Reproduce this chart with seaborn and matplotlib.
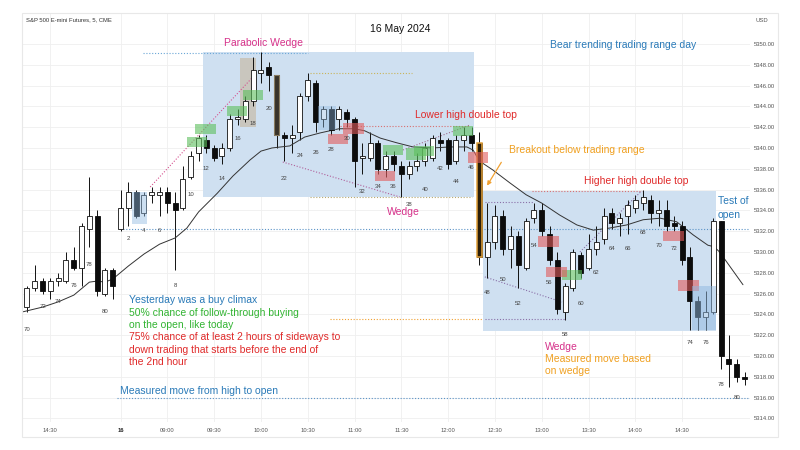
import numpy as np
import pandas as pd
import matplotlib
matplotlib.use("Agg")
import matplotlib.pyplot as plt
import seaborn as sns
from matplotlib.patches import Rectangle

sns.set_theme(style="white")
plt.rcParams['font.family'] = ['Liberation Sans', 'DejaVu Sans']

# ---------------- data ----------------
bar_numbers = list(range(70, 82)) + list(range(1, 82))

opens = [5324.75, 5326.5, 5327.25, 5326.25, 5327.25, 5327.25, 5329.25, 5328.5, 5332.25, 5333.5, 5326.0, 5328.25,
         5332.25, 5334.25, 5335.75, 5333.75, 5335.5, 5335.5, 5335.75, 5334.75, 5334.25, 5337.25,
         5339.5, 5340.75, 5340.0, 5339.25, 5340.0, 5342.75, 5342.75, 5344.5, 5347.25, 5347.75,
         5347.0, 5341.25, 5341.0, 5341.5, 5345.0, 5346.25, 5342.75, 5343.75, 5342.75, 5343.5,
         5342.75, 5339.0, 5339.0, 5340.5, 5338.0, 5339.25, 5338.25, 5337.5, 5338.25, 5338.75,
         5339.0, 5340.75, 5340.75, 5338.75, 5340.75, 5341.25, 5340.5, 5329.5, 5331.0, 5333.5,
         5330.25, 5331.5, 5328.5, 5333.25, 5334.0, 5331.75, 5329.25, 5324.25, 5326.5, 5329.75,
         5328.5, 5330.25, 5331.25, 5333.75, 5332.75, 5333.5, 5334.25, 5334.75, 5335.0, 5333.75,
         5334.0, 5332.75, 5332.5, 5329.5, 5325.25, 5323.75, 5324.25, 5333.0, 5319.75, 5319.25, 5318.0]
highs = [5326.75, 5328.75, 5327.5, 5327.5, 5328.0, 5330.0, 5330.5, 5332.75, 5337.25, 5334.0, 5328.5, 5328.5,
         5336.0, 5336.75, 5336.0, 5335.75, 5336.25, 5336.25, 5336.25, 5335.75, 5338.25, 5339.75,
         5341.25, 5341.25, 5340.25, 5340.5, 5343.25, 5343.75, 5345.0, 5348.75, 5349.25, 5348.25,
         5347.0, 5341.5, 5342.25, 5345.25, 5347.25, 5346.5, 5344.0, 5344.0, 5344.0, 5343.75,
         5343.0, 5340.5, 5341.5, 5340.75, 5339.75, 5339.75, 5338.75, 5338.75, 5339.5, 5340.5,
         5341.25, 5341.5, 5341.0, 5341.25, 5342.0, 5342.0, 5341.5, 5334.75, 5334.5, 5334.0,
         5332.5, 5332.0, 5333.25, 5334.75, 5334.75, 5332.5, 5330.0, 5327.0, 5330.25, 5330.0,
         5331.75, 5332.5, 5334.25, 5334.25, 5333.75, 5335.0, 5335.5, 5336.0, 5335.5, 5335.0,
         5335.0, 5333.5, 5333.0, 5330.5, 5325.75, 5326.25, 5333.25, 5333.0, 5322.0, 5319.75, 5318.5]
lows = [5324.25, 5326.25, 5326.0, 5325.5, 5326.75, 5327.0, 5328.25, 5326.75, 5330.5, 5325.75, 5325.75, 5325.5,
        5332.0, 5332.5, 5333.25, 5333.5, 5334.75, 5333.5, 5333.75, 5328.25, 5334.0, 5337.0,
        5338.75, 5339.5, 5338.75, 5338.5, 5339.75, 5342.25, 5342.5, 5344.0, 5346.25, 5345.5,
        5340.0, 5338.75, 5339.5, 5340.75, 5344.5, 5341.5, 5342.0, 5341.25, 5341.75, 5342.0,
        5336.25, 5337.5, 5338.75, 5337.5, 5337.25, 5337.75, 5335.25, 5337.0, 5337.75, 5338.25,
        5338.75, 5339.75, 5338.0, 5338.5, 5339.75, 5339.75, 5328.75, 5327.5, 5330.25, 5329.75,
        5328.5, 5326.5, 5328.25, 5332.75, 5331.5, 5328.75, 5324.0, 5323.5, 5326.25, 5327.5,
        5328.25, 5329.75, 5330.75, 5332.25, 5331.5, 5331.75, 5333.75, 5334.0, 5332.75, 5332.5,
        5332.0, 5332.0, 5328.75, 5322.5, 5322.5, 5322.5, 5324.0, 5318.75, 5317.0, 5317.5, 5317.25]
closes = [5326.5, 5327.25, 5326.25, 5327.25, 5327.5, 5329.25, 5328.5, 5332.5, 5333.5, 5326.25, 5328.25, 5326.75,
          5334.25, 5335.75, 5333.5, 5335.5, 5335.75, 5335.75, 5334.75, 5334.0, 5337.0, 5339.25,
          5341.0, 5340.0, 5339.0, 5340.0, 5342.75, 5343.0, 5344.5, 5347.5, 5347.5, 5347.0,
          5341.25, 5341.0, 5341.25, 5345.0, 5346.5, 5342.5, 5343.75, 5341.75, 5343.75, 5342.75,
          5338.75, 5339.25, 5340.5, 5338.0, 5339.25, 5338.5, 5337.5, 5338.25, 5338.75, 5340.0,
          5341.0, 5340.5, 5338.5, 5340.75, 5341.25, 5340.5, 5329.5, 5331.0, 5333.5, 5330.25,
          5331.5, 5328.75, 5333.0, 5334.0, 5332.0, 5329.25, 5324.5, 5326.75, 5330.0, 5328.0,
          5330.25, 5331.0, 5333.5, 5332.75, 5333.25, 5334.5, 5335.0, 5335.25, 5333.75, 5334.0,
          5332.5, 5332.5, 5329.25, 5325.25, 5323.75, 5324.25, 5333.0, 5320.0, 5319.25, 5318.0, 5317.75]

# moving average (bar slot, price)
ema_slot = [-0.5, 2, 4, 6, 8, 9, 10, 11, 13, 15, 17, 19, 20.5, 22, 24.4, 26.4, 28.6, 30, 31.4, 33.7,
            35.6, 37.6, 40, 42, 43.3, 45.3, 47.4, 49.5, 52, 54.2, 56.4, 57.2, 58, 59.7, 61.9, 64, 66,
            68.3, 70.5, 72.6, 74.7, 76.9, 79, 81.2, 83.3, 85.4, 87.3, 88.1, 88.8, 91.8]
ema_vals = [5324.25, 5324.7, 5325.2, 5325.85, 5327.1, 5327.2, 5327.1, 5327.4, 5328.65, 5329.8, 5330.75,
            5331.35, 5332.3, 5333.85, 5335.65, 5337.3, 5338.85, 5339.7, 5340.0, 5340.2, 5341.05, 5341.45,
            5341.85, 5341.85, 5341.65, 5340.95, 5340.5, 5340.1, 5340.0, 5340.1, 5340.1, 5339.8, 5338.75,
            5337.9, 5336.65, 5335.5, 5334.7, 5333.55, 5332.6, 5332.1, 5332.3, 5332.6, 5333.1, 5333.25,
            5332.9, 5331.65, 5330.65, 5330.5, 5330.0, 5326.85]

time_tick_slots = [3, 12, 18, 24, 30, 36, 42, 48, 54, 60, 66, 72, 78, 84]
time_tick_labels = ["14:30", "16", "09:00", "09:30", "10:00", "10:30", "11:00", "11:30",
                    "12:00", "12:30", "13:00", "13:30", "14:00", "14:30"]
price_ticks = list(range(5314, 5352, 2))

df = pd.DataFrame({"bar": bar_numbers, "open": opens, "high": highs, "low": lows, "close": closes})
df["slot"] = np.arange(len(df))

# ---------------- figure ----------------
W, H = 800, 450
fig = plt.figure(figsize=(8, 4.5), dpi=100)
ax = fig.add_axes([22 / W, 1 - 422 / H, (750 - 22) / W, (422 - 13) / H])
ax.set_xlim(-0.64, 92.7)
ax.set_ylim(5313.65, 5352.98)

for s in ax.spines.values():
    s.set_visible(False)
ax.set_axisbelow(True)
ax.grid(True, color='#efefef', lw=0.6)

# background zones
def rect(x0, x1, y0, y1, fc, alpha=1.0, z=1):
    ax.add_patch(Rectangle((x0, y0), x1 - x0, y1 - y0, facecolor=fc, edgecolor='none', alpha=alpha, zorder=z))

rect(22.6, 57.3, 5335.29, 5349.23, '#cfe0f1', z=1)
rect(58.5, 88.3, 5322.4, 5335.9, '#cfe0f1', z=1)
rect(27.3, 29.4, 5342.0, 5348.65, '#c8c0b2', alpha=0.8, z=1.5)

# dotted guide lines
def dline(x0, x1, y0, y1, color, lw=0.8):
    ax.plot([x0, x1], [y0, y1], ls=(0, (1, 1.6)), lw=lw, color=color, zorder=2)

dline(14.9, 36.0, 5349.13, 5349.13, '#6aa6d6')
dline(36.3, 49.4, 5347.21, 5347.21, '#c9b45a')
dline(15.8, 29.2, 5336.25, 5347.02, '#d6518f')
dline(32.8, 47.8, 5338.65, 5335.29, '#b0609a')
dline(36.3, 57.1, 5335.29, 5335.29, '#b8a870')
dline(48.2, 56.8, 5339.81, 5342.21, '#a07090')
dline(40.1, 56.8, 5342.12, 5342.12, '#d87070')
dline(11.9, 92.7, 5332.25, 5332.25, '#5b93c7')
dline(11.5, 92.4, 5316.0, 5316.0, '#5b93c7')
dline(38.8, 58.3, 5323.56, 5323.56, '#f0a030')
dline(58.7, 69.0, 5323.56, 5323.56, '#8a70a8')
dline(58.7, 68.6, 5327.6, 5325.19, '#8a70a8')
dline(58.7, 64.9, 5334.81, 5334.81, '#8a70a8')
dline(70.9, 78.8, 5330.0, 5335.87, '#8a70a8')
dline(64.7, 78.8, 5335.87, 5335.87, '#d87070')

# moving average
sns.lineplot(x=ema_slot, y=ema_vals, ax=ax, color='#333333', linewidth=0.7, estimator=None, zorder=3.5)

# candles
o = df["open"].to_numpy(); c = df["close"].to_numpy()
lo = np.minimum(o, c); hgt = np.maximum(np.abs(c - o), 0.08)
up = c >= o
ax.vlines(df["slot"], df["low"], df["high"], color='#111111', lw=0.7, zorder=3)
ax.bar(df["slot"][up], hgt[up], bottom=lo[up], width=0.64, color='white', edgecolor='#111111', linewidth=0.6, zorder=4)
ax.bar(df["slot"][~up], hgt[~up], bottom=lo[~up], width=0.64, color='#0c0c0c', edgecolor='#0c0c0c', linewidth=0.6, zorder=4)
# highlighted bars (bar 21 and bar 47 of the day)
for bar_no, fc, ec, lw in [(21, '#39332a', '#8a7c60', 0.8), (47, '#2a1d08', '#e2a13a', 1.1)]:
    r = df[(df["bar"] == bar_no) & (df["slot"] > 11)].iloc[0]
    ax.bar([r["slot"]], [abs(r["close"] - r["open"])], bottom=[min(r["open"], r["close"])], width=0.72,
           color=fc, edgecolor=ec, linewidth=lw, zorder=4.2)

# signal boxes
greens = [(20.5, 23.1, 5340.1, 5341.05), (21.5, 24.2, 5341.35, 5342.3), (25.6, 28.2, 5343.08, 5344.04),
          (27.7, 30.3, 5344.62, 5345.58), (45.6, 48.2, 5339.33, 5340.29), (48.6, 51.2, 5338.85, 5340.0),
          (49.6, 52.2, 5339.23, 5340.19), (54.6, 57.2, 5341.15, 5342.12), (68.6, 71.2, 5327.31, 5328.27)]
reds = [(40.5, 43.2, 5341.35, 5342.4), (38.6, 41.2, 5340.38, 5341.35), (44.6, 47.2, 5336.83, 5337.79),
        (56.5, 59.1, 5338.56, 5339.62), (65.5, 68.2, 5330.48, 5331.54), (66.5, 69.2, 5327.6, 5328.56),
        (81.5, 84.2, 5331.06, 5332.02), (83.5, 86.2, 5326.25, 5327.31)]
for g in greens:
    rect(*g, '#5cbf5c', alpha=0.6, z=5)
for r_ in reds:
    rect(*r_, '#e25c5c', alpha=0.6, z=5)
rect(13.5, 15.4, 5332.7, 5335.77, '#8fb8e0', alpha=0.45, z=5)
rect(85.3, 88.3, 5322.5, 5326.73, '#8fb8e0', alpha=0.5, z=5)
rect(37.3, 39.6, 5341.73, 5344.04, '#8fb8e0', alpha=0.4, z=5)

# bar numbers
num_pos = [(0, 5322.5), (2, 5324.71), (4, 5325.19), (6, 5326.73), (8, 5328.75), (10, 5324.23),
           (13, 5331.25), (15, 5332.02), (17, 5332.02), (19, 5326.73), (21, 5335.48), (23, 5337.98),
           (25, 5337.02), (27, 5340.87), (29, 5342.31), (31, 5343.75), (33, 5337.02), (35, 5339.23),
           (37, 5339.52), (39, 5339.81), (41, 5340.87), (43, 5335.77), (45, 5336.25), (47, 5336.25),
           (49, 5334.52), (51, 5335.96), (53, 5337.98), (55, 5336.73), (57, 5338.08), (59, 5326.06),
           (61, 5327.4), (63, 5325.0), (65, 5330.67), (67, 5327.02), (69, 5322.02), (71, 5325.0),
           (73, 5327.98), (75, 5330.29), (77, 5330.29), (79, 5331.92), (81, 5330.67), (83, 5330.29),
           (85, 5321.25), (87, 5321.25), (89, 5317.21), (91, 5316.0)]
for s, yv in num_pos:
    ax.text(s, yv, str(df["bar"].iloc[s]), fontsize=4.3, color='#444444', ha='center', va='center', zorder=6)

# annotations
fs = 7.5
ax.text(30.3, 5350.1, "Parabolic Wedge", color='#d6318a', fontsize=fs, ha='center', va='center', zorder=6)
ax.text(76.4, 5349.9, "Bear trending trading range day", color='#2a7ab8', fontsize=fs, ha='center', va='center', zorder=6)
ax.text(56.3, 5343.17, "Lower high double top", color='#e02a2a', fontsize=fs, ha='center', va='center', zorder=6)
ax.text(70.5, 5339.81, "Breakout below trading range", color='#f0a020', fontsize=fs, ha='center', va='center', zorder=6)
ax.text(78.1, 5336.83, "Higher high double top", color='#e02a2a', fontsize=fs, ha='center', va='center', zorder=6)
ax.text(48.3, 5333.85, "Wedge", color='#d6318a', fontsize=fs, ha='center', va='center', zorder=6)
ax.text(88.6, 5334.9, "Test of", color='#2a7ab8', fontsize=fs, ha='left', va='center', zorder=6)
ax.text(88.6, 5333.56, "open", color='#2a7ab8', fontsize=fs, ha='left', va='center', zorder=6)
left_lines = [("Yesterday was a buy climax", '#2a7ab8', 5325.38),
              ("50% chance of follow-through buying", '#32b432', 5324.13),
              ("on the open, like today", '#32b432', 5322.98),
              ("75% chance of at least 2 hours of sideways to", '#e02a2a', 5321.83),
              ("down trading that starts before the end of", '#e02a2a', 5320.58),
              ("the 2nd hour", '#e02a2a', 5319.42)]
for t, col, yv in left_lines:
    ax.text(13.1, yv, t, color=col, fontsize=fs, ha='left', va='center', zorder=6)
ax.text(66.4, 5320.87, "Wedge", color='#d6318a', fontsize=fs, ha='left', va='center', zorder=6)
ax.text(66.4, 5319.71, "Measured move based", color='#f0a020', fontsize=fs, ha='left', va='center', zorder=6)
ax.text(66.4, 5318.56, "on wedge", color='#f0a020', fontsize=fs, ha='left', va='center', zorder=6)
ax.text(11.9, 5316.15, "Measured move from high to open", color='#2a7ab8', fontsize=fs, ha='left', va='bottom', zorder=6)
ax.annotate('', xy=(58.8, 5336.15), xytext=(61.0, 5338.85),
            arrowprops=dict(arrowstyle='-|>', color='#f0a030', lw=0.9, mutation_scale=6), zorder=6)

# axes ticks
ax.yaxis.tick_right()
ax.set_yticks(price_ticks)
ax.set_yticklabels([f"{p:.2f}" for p in price_ticks])
ax.tick_params(axis='y', length=0, pad=3, labelsize=4.2, labelcolor='#555555')
ax.set_xticks(time_tick_slots)
ax.set_xticklabels(time_tick_labels)
ax.tick_params(axis='x', length=0, pad=4, labelsize=4.2, labelcolor='#555555')
for lab in ax.get_xticklabels():
    if lab.get_text() == "16":
        lab.set_fontweight('bold')
        lab.set_color('#222222')

# header texts and frame
fig.text(26 / W, 1 - 20 / H, "S&P 500 E-mini Futures, 5, CME", fontsize=4.2, color='#333333', va='center')
fig.text(400 / W, 1 - 29 / H, "16 May 2024", fontsize=7.5, color='#111111', ha='center', va='center')
fig.text(762 / W, 1 - 20 / H, "USD", fontsize=4.2, color='#555555', ha='center', va='center')
fig.add_artist(Rectangle((22 / W, 1 - 437 / H), (778 - 22) / W, (437 - 13) / H, transform=fig.transFigure,
                         fill=False, edgecolor='#e8e8e8', lw=0.8))

fig.savefig("out.png", dpi=100)
